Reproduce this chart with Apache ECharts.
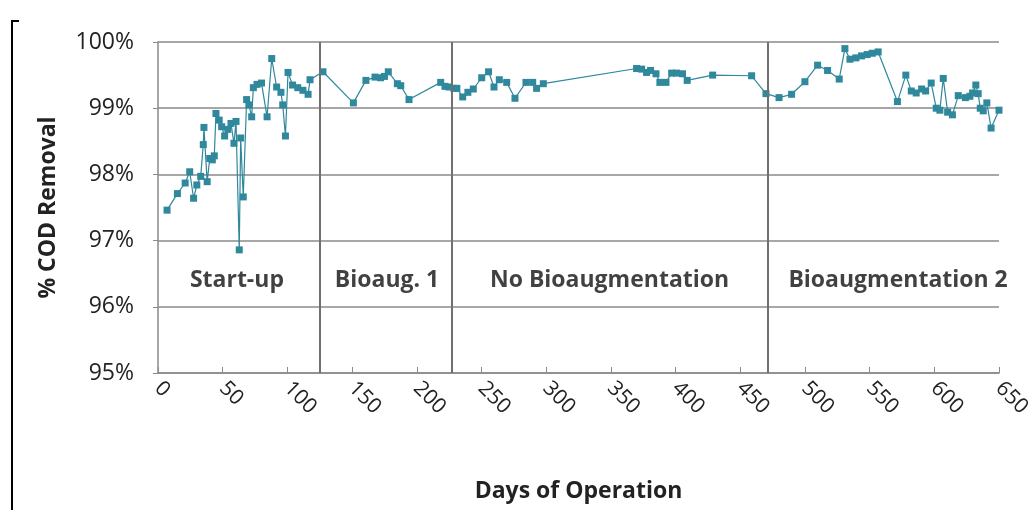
<!DOCTYPE html>
<html>
<head>
<meta charset="utf-8">
<script src="https://cdn.jsdelivr.net/npm/echarts@6/dist/echarts.min.js"></script>
<style>
  html, body { margin: 0; padding: 0; background: #fff; }
  #chart { width: 1036px; height: 510px; }
</style>
</head>
<body>
<div id="chart"></div>
<script>
// days of operation for each sample
var days = [
  7, 15, 21, 24.5, 27.5, 30, 33, 35, 35.5, 38, 40, 42, 43.5, 44.8, 47.3, 49.2, 51.5, 54, 56.4, 58.7,
  60.3, 62.8, 63.9, 65.9, 68.5, 70.3, 72.4, 73.7, 76.5, 80, 84.3, 87.9, 91.7, 95, 96.4, 98.5,
  100.5, 104, 108, 112, 116, 117.5, 127.5,
  151, 160.7, 167.7, 172, 175, 178, 185, 187.6, 194, 218.5, 221.8, 225,
  228.7, 231, 235.5, 239.5, 243.7, 250.2, 255.5, 259.7, 263.8, 269.5, 275.9, 284.4, 289.6, 292.6, 297.8,
  369.9, 373.8, 377.6, 380.7, 384.9, 387.9, 392.6, 397, 400.8, 405.4, 409, 428.7, 458.8,
  469.9, 480, 489.7, 500, 509.8, 517.5, 526.5, 530.9, 534.8, 539.4, 543.8, 548.1, 552, 556.6,
  571.5, 578, 582.2, 586, 590.2, 593.3, 597.6, 601.5, 604.3, 606.9, 610.3, 614, 618.5, 624,
  627.5, 629.6, 632.1, 633.9, 635.5, 637.8, 640.6, 643.9, 650
];
// % COD removal
var codRemoval = [
  97.46, 97.71, 97.87, 98.04, 97.64, 97.84, 97.97, 98.45, 98.71, 97.89, 98.24, 98.22, 98.28, 98.92, 98.82, 98.72, 98.58, 98.68, 98.77, 98.47,
  98.80, 96.86, 98.55, 97.66, 99.13, 99.05, 98.87, 99.31, 99.36, 99.38, 98.87, 99.75, 99.32, 99.24, 99.05, 98.58,
  99.54, 99.35, 99.31, 99.27, 99.21, 99.43, 99.55,
  99.08, 99.42, 99.47, 99.46, 99.48, 99.55, 99.37, 99.34, 99.13, 99.39, 99.33, 99.32,
  99.30, 99.30, 99.17, 99.24, 99.29, 99.46, 99.55, 99.32, 99.43, 99.39, 99.15, 99.39, 99.39, 99.30, 99.37,
  99.60, 99.59, 99.54, 99.57, 99.52, 99.39, 99.39, 99.53, 99.53, 99.52, 99.42, 99.50, 99.49,
  99.22, 99.16, 99.21, 99.40, 99.65, 99.57, 99.44, 99.90, 99.74, 99.76, 99.79, 99.81, 99.83, 99.85,
  99.10, 99.50, 99.26, 99.23, 99.29, 99.26, 99.38, 99.00, 98.97, 99.45, 98.94, 98.90, 99.19, 99.16,
  99.18, 99.23, 99.35, 99.22, 99.00, 98.96, 99.08, 98.70, 98.97
];

// phase boundaries (days) and phase label placement
var phaseBounds = [125, 227, 471];
var phaseNames = ['Start-up', 'Bioaug. 1', 'No Bioaugmentation', 'Bioaugmentation 2'];
var phaseLabelDay = [61, 177, 349, 572];
var phaseLabelY = 96.4;

var lineData = [];
for (var i = 0; i < days.length; i++) {
  lineData.push([days[i], codRemoval[i]]);
}
var labelData = [];
for (var j = 0; j < phaseNames.length; j++) {
  labelData.push({ name: phaseNames[j], value: [phaseLabelDay[j], phaseLabelY] });
}

var font = '"Open Sans", Lato, sans-serif';
var chart = echarts.init(document.getElementById('chart'));

var option = {
  animation: false,
  grid: { left: 158, right: 37, top: 42, bottom: 137 },
  xAxis: {
    type: 'value',
    min: 0,
    max: 650,
    interval: 50,
    name: 'Days of Operation',
    nameLocation: 'middle',
    nameGap: 107,
    nameTextStyle: { fontFamily: font, fontWeight: 'bold', fontSize: 23, color: '#222' },
    axisLine: { show: true, onZero: false, lineStyle: { color: '#8a8a8a', width: 1.5 } },
    axisTick: { show: true, inside: true, length: 6, lineStyle: { color: '#8a8a8a' } },
    axisLabel: { rotate: -45, margin: 12, fontFamily: font, fontSize: 21, color: '#222' },
    splitLine: { show: false }
  },
  yAxis: {
    type: 'value',
    min: 95,
    max: 100,
    interval: 1,
    name: '% COD Removal',
    nameLocation: 'middle',
    nameGap: 98,
    nameRotate: 90,
    nameTextStyle: { fontFamily: font, fontWeight: 'bold', fontSize: 23, color: '#222' },
    axisLine: { show: true, lineStyle: { color: '#8a8a8a', width: 1.5 } },
    axisTick: { show: true, length: 5, lineStyle: { color: '#8a8a8a' } },
    axisLabel: { formatter: '{value}%', margin: 24, fontFamily: font, fontSize: 23, color: '#222' },
    splitLine: { show: true, lineStyle: { color: '#8a8a8a', width: 1.5 } }
  },
  series: [
    {
      type: 'line',
      data: lineData,
      symbol: 'rect',
      symbolSize: 7,
      itemStyle: { color: '#2f889c' },
      lineStyle: { color: '#2f889c', width: 1.2 },
      markLine: {
        silent: true,
        symbol: 'none',
        label: { show: false },
        lineStyle: { color: '#707070', width: 2, type: 'solid' },
        data: phaseBounds.map(function (d) { return { xAxis: d }; })
      },
      z: 3
    },
    {
      type: 'scatter',
      data: labelData,
      symbolSize: 0,
      silent: true,
      label: {
        show: true,
        position: 'inside',
        formatter: '{b}',
        fontFamily: font,
        fontWeight: 'bold',
        fontSize: 23,
        color: '#111'
      }
    }
  ],
  graphic: [
    { type: 'line', shape: { x1: 12, y1: 20, x2: 12, y2: 510 }, style: { stroke: '#000', lineWidth: 2 } },
    { type: 'line', shape: { x1: 11, y1: 21, x2: 19, y2: 21 }, style: { stroke: '#000', lineWidth: 2 } }
  ]
};
chart.setOption(option);
</script>
</body>
</html>
